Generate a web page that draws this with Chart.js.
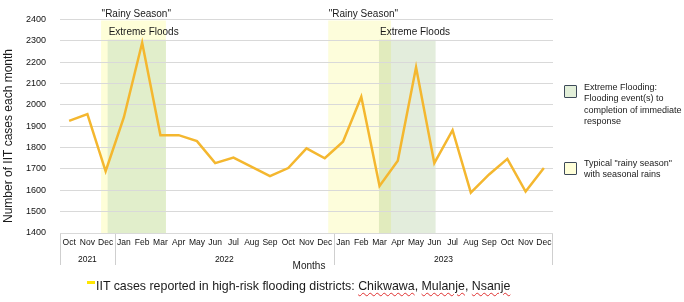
<!DOCTYPE html>
<html lang="en">
<head>
    <meta charset="UTF-8">
    <title>IIT cases by month</title>
    <script src="https://cdn.jsdelivr.net/npm/chart.js@4.4.1/dist/chart.umd.min.js"></script>
    <style>
        body {
            margin: 0;
            background: #fff;
            font-family: "Liberation Sans", Arial, sans-serif;
        }
        .wrap {
            position: relative;
            width: 684px;
            height: 302px;
        }
        canvas {
            position: absolute;
            left: 0;
            top: 0;
        }
        .key {
            position: absolute;
            left: 564px;
            width: 11px;
            height: 11px;
            border: 1.3px solid #3e4a5a;
            border-radius: 1px;
        }
        .keytext {
            position: absolute;
            left: 584px;
            font-size: 9px;
            line-height: 11.3px;
            color: #1a1a1a;
        }
        .series {
            position: absolute;
            left: 96px;
            top: 279px;
            font-family: "Liberation Sans Narrow", "Liberation Sans", sans-serif;
            font-size: 12.4px;
            color: #1a1a1a;
            white-space: nowrap;
        }
        .series span {
            text-decoration: underline wavy #e03030;
            text-decoration-thickness: 1px;
            text-underline-offset: 2px;
        }
        .marker {
            position: absolute;
            left: 87px;
            top: 281px;
            width: 8px;
            height: 3px;
            background: #ffe600;
        }
    </style>
</head>
<body>
    <div class="wrap">
        <canvas id="chart" width="684" height="302"></canvas>
        <div class="key" style="top:85px; background:#e2efd9;"></div>
        <div class="keytext" style="top:82px;">Extreme Flooding:<br>Flooding event(s) to<br>completion of immediate<br>response</div>
        <div class="key" style="top:162px; background:#ffffd9;"></div>
        <div class="keytext" style="top:158px;">Typical "rainy season"<br>with seasonal rains</div>
        <div class="marker"></div>
        <div class="series">IIT cases reported in high-risk flooding districts: <span>Chikwawa</span>, <span>Mulanje</span>, <span>Nsanje</span></div>
    </div>

    <script>
        // Months Oct 2021 .. Dec 2023
        const months = ['Oct', 'Nov', 'Dec',
            'Jan', 'Feb', 'Mar', 'Apr', 'May', 'Jun', 'Jul', 'Aug', 'Sep', 'Oct', 'Nov', 'Dec',
            'Jan', 'Feb', 'Mar', 'Apr', 'May', 'Jun', 'Jul', 'Aug', 'Sep', 'Oct', 'Nov', 'Dec'];
        const iitCases = [1925, 1957, 1689,
            1942, 2291, 1858, 1858, 1830, 1727, 1753, 1710, 1666, 1704, 1796, 1750,
            1827, 2038, 1620, 1738, 2176, 1727, 1881, 1589, 1674, 1747, 1594, 1704];

        // year groups: label, first month index, last month index
        const years = ['2021', '2022', '2023'];
        const yearStart = [0, 3, 15];
        const yearEnd = [2, 14, 26];

        // shaded periods, in month index units
        const rainyStart = [1.75, 14.19];
        const rainyEnd = [5.3, 17.63];
        const floodStart = [2.11, 16.97];
        const floodEnd = [5.3, 20.07];
        const rainyTop = 2395;
        const floodTop = 2305;

        const Y_MIN = 1400;
        const Y_MAX = 2400;

        const bandsPlugin = {
            id: 'bands',
            beforeDraw(chart) {
                const ctx = chart.ctx;
                const x = chart.scales.x;
                const y = chart.scales.y;
                const bottom = y.getPixelForValue(Y_MIN);
                ctx.save();
                for (let i = 0; i < rainyStart.length; i++) {
                    const x0 = x.getPixelForValue(rainyStart[i]);
                    const x1 = x.getPixelForValue(rainyEnd[i]);
                    const top = y.getPixelForValue(rainyTop);
                    ctx.fillStyle = i === 0 ? '#fefed8' : '#fdfddb';
                    ctx.fillRect(x0, top, x1 - x0, bottom - top);
                }
                for (let i = 0; i < floodStart.length; i++) {
                    const x0 = x.getPixelForValue(floodStart[i]);
                    const x1 = x.getPixelForValue(floodEnd[i]);
                    const top = y.getPixelForValue(floodTop);
                    if (i === 0) {
                        ctx.fillStyle = '#e1eecb';
                    } else {
                        ctx.globalCompositeOperation = 'multiply';
                        ctx.fillStyle = '#e3eddc';
                    }
                    ctx.fillRect(x0, top, x1 - x0, bottom - top);
                    ctx.globalCompositeOperation = 'source-over';
                }
                ctx.restore();
            },
            afterDraw(chart) {
                const ctx = chart.ctx;
                const x = chart.scales.x;
                const y = chart.scales.y;
                ctx.save();
                ctx.fillStyle = '#1a1a1a';
                ctx.font = '10px "Liberation Sans", Arial, sans-serif';
                ctx.textBaseline = 'middle';
                ctx.textAlign = 'left';
                for (let i = 0; i < rainyStart.length; i++) {
                    ctx.fillText('"Rainy Season"', x.getPixelForValue(rainyStart[i]) + 0.5, 14);
                    ctx.fillText('Extreme Floods', x.getPixelForValue(floodStart[i]) + 1, 32);
                }

                // year row and group separators under the month labels
                const axisY = y.getPixelForValue(Y_MIN);
                ctx.strokeStyle = '#cfcfcf';
                ctx.lineWidth = 1;
                ctx.font = '8.5px "Liberation Sans", Arial, sans-serif';
                ctx.textAlign = 'center';
                ctx.fillStyle = '#111';
                for (let i = 0; i < years.length; i++) {
                    const xa = x.getPixelForValue(yearStart[i] - 0.5);
                    const xb = x.getPixelForValue(yearEnd[i] + 0.5);
                    ctx.fillText(years[i], x.getPixelForValue((yearStart[i] + yearEnd[i]) / 2), 260);
                    ctx.beginPath();
                    ctx.moveTo(Math.round(xa) + 0.5, axisY + 1);
                    ctx.lineTo(Math.round(xa) + 0.5, axisY + 32);
                    if (i === years.length - 1) {
                        ctx.moveTo(Math.round(xb) - 0.5, axisY + 1);
                        ctx.lineTo(Math.round(xb) - 0.5, axisY + 32);
                    }
                    ctx.stroke();
                }

                // axis titles
                ctx.font = '10px "Liberation Sans", Arial, sans-serif';
                ctx.fillStyle = '#1a1a1a';
                ctx.fillText('Months', 309, 266);
                ctx.translate(8.5, 136);
                ctx.rotate(-Math.PI / 2);
                ctx.font = '12px "Liberation Sans", Arial, sans-serif';
                ctx.fillText('Number of IIT cases each month', 0, 0);
                ctx.restore();
            }
        };

        new Chart(document.getElementById('chart'), {
            type: 'line',
            data: {
                labels: months,
                datasets: [{
                    label: 'IIT cases reported in high-risk flooding districts',
                    data: iitCases,
                    borderColor: '#f4b72f',
                    borderWidth: 2.5,
                    pointRadius: 0,
                    tension: 0,
                    fill: false
                }]
            },
            options: {
                responsive: false,
                animation: false,
                layout: {
                    padding: { left: 0, right: 131, top: 16, bottom: 0 }
                },
                plugins: {
                    legend: { display: false },
                    tooltip: { enabled: false }
                },
                scales: {
                    x: {
                        offset: true,
                        grid: { display: false, drawTicks: false },
                        border: { display: false },
                        ticks: {
                            autoSkip: false,
                            maxRotation: 0,
                            padding: 5,
                            color: '#111',
                            font: { family: '"Liberation Sans", Arial, sans-serif', size: 8.5 }
                        },
                        afterFit(scale) {
                            scale.height = 302 - 233;
                        }
                    },
                    y: {
                        min: Y_MIN,
                        max: Y_MAX,
                        grid: { color: '#d9d9d9', drawTicks: false },
                        border: { display: false },
                        ticks: {
                            stepSize: 100,
                            padding: 14,
                            color: '#111',
                            font: { family: '"Liberation Sans", Arial, sans-serif', size: 9 },
                            callback: value => String(value)
                        },
                        afterFit(scale) {
                            scale.width = 60;
                        }
                    }
                }
            },
            plugins: [bandsPlugin]
        });
    </script>
</body>
</html>
